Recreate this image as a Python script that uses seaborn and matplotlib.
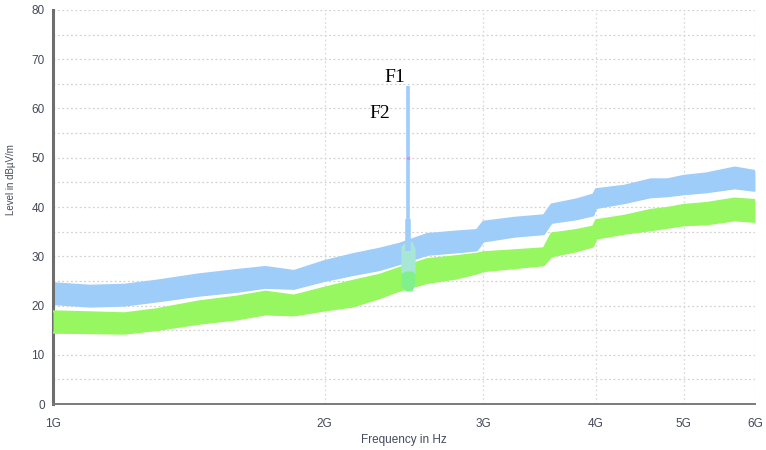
import numpy as np
import pandas as pd
import matplotlib
matplotlib.use("Agg")
import matplotlib.pyplot as plt
from matplotlib.ticker import FixedLocator, NullLocator, MultipleLocator
import seaborn as sns

# Częstotliwość [GHz], dolna/górna krawędź pasma [dBµV/m]
freq_ghz = [1.0, 1.1, 1.2, 1.3, 1.45, 1.6, 1.72, 1.85, 2.0, 2.15, 2.3, 2.42,
            2.6, 2.8, 2.95, 3.0, 3.25, 3.5, 3.57, 3.8, 3.97, 4.0, 4.3, 4.6,
            4.8, 5.0, 5.3, 5.7, 6.0]
peak_top = [24.5, 24.0, 24.2, 25.0, 26.3, 27.2, 27.8, 27.0, 29.0, 30.4, 31.5, 32.5,
            34.5, 35.0, 35.3, 37.0, 37.8, 38.3, 40.5, 41.5, 42.5, 43.6, 44.3, 45.6,
            45.6, 46.3, 46.8, 48.0, 47.3]
peak_bottom = [20.3, 19.8, 20.0, 20.8, 22.0, 22.8, 23.6, 23.4, 25.0, 26.2, 27.2, 28.4,
               30.3, 30.8, 31.2, 33.0, 34.0, 34.5, 36.8, 37.5, 38.3, 39.8, 40.8, 42.0,
               42.2, 42.6, 43.0, 43.8, 43.3]
avg_top = [18.8, 18.6, 18.4, 19.2, 20.8, 21.8, 22.8, 22.0, 23.6, 25.0, 26.2, 27.6,
           29.4, 30.0, 30.5, 30.8, 31.2, 31.6, 34.6, 35.3, 36.0, 37.3, 38.2, 39.4,
           39.8, 40.4, 40.8, 41.7, 41.4]
avg_bottom = [14.5, 14.4, 14.3, 15.0, 16.3, 17.2, 18.2, 18.0, 19.0, 19.8, 21.5, 23.0,
              24.6, 25.5, 26.5, 27.0, 27.6, 28.2, 30.0, 31.0, 32.0, 33.6, 34.6, 35.3,
              35.8, 36.3, 36.5, 37.3, 37.0]

# Sygnał 2.4 GHz (F1 - szczyt, F2 - średnia)
spike_ghz = 2.477
spike_peak = 64.5
spike_avg = 50.0
spike_base = 31.0

# Obszar nakładania się pasm w paśmie ISM
ism_ghz = [2.43, 2.46, 2.50, 2.52]
ism_top = [32.0, 33.0, 33.0, 31.5]
ism_mid = [26.5, 27.0, 27.0, 26.5]
ism_bottom = [24.0, 23.0, 23.0, 24.5]

blue = "#9fcdfa"
green = "#97f760"
text_col = "#454a5a"

df = pd.DataFrame({
    "freq": np.array(freq_ghz) * 1e9,
    "peak_top": peak_top, "peak_bottom": peak_bottom,
    "avg_top": avg_top, "avg_bottom": avg_bottom,
})

sns.set_style("white")
plt.rcParams["font.family"] = ["Liberation Sans", "DejaVu Sans"]

fig = plt.figure(figsize=(7.66, 4.5), dpi=100)
ax = fig.add_axes([0.0692, 0.1022, 0.9164, 0.8756])

# pasma
ax.fill_between(df["freq"], df["peak_bottom"], df["peak_top"], color=blue, lw=0, zorder=2)
sns.lineplot(data=df, x="freq", y="peak_top", color=blue, lw=1.6, ax=ax, zorder=2)
sns.lineplot(data=df, x="freq", y="peak_bottom", color=blue, lw=1.6, ax=ax, zorder=2)
ax.fill_between(df["freq"], df["avg_bottom"], df["avg_top"], color=green, lw=0, zorder=3)
sns.lineplot(data=df, x="freq", y="avg_top", color=green, lw=1.6, ax=ax, zorder=3)
sns.lineplot(data=df, x="freq", y="avg_bottom", color=green, lw=1.6, ax=ax, zorder=3)

ism_f = np.array(ism_ghz) * 1e9
ax.fill_between(ism_f, ism_bottom, ism_top, color="#a8e6d6", lw=0, zorder=4)
ax.fill_between(ism_f, ism_bottom, ism_mid, color="#7ff08a", lw=0, zorder=4)

# szpilka
ax.vlines(spike_ghz * 1e9, spike_base, spike_peak, color=blue, lw=2.6, zorder=5)
ax.vlines(spike_ghz * 1e9, spike_base, 37.5, color=blue, lw=4, zorder=5)
ax.plot([spike_ghz * 1e9], [spike_avg], marker="s", ms=2, color="#e08ae8", zorder=6)

ax.text(2.33e9, 65.3, "F1", family=["Liberation Serif"], fontsize=14, color="black")
ax.text(2.24e9, 58.0, "F2", family=["Liberation Serif"], fontsize=14, color="black")

# osie
ax.set_xscale("log")
ax.set_xlim(1e9, 6e9)
ax.set_ylim(0, 80)
xt = [1e9, 2e9, 3e9, 4e9, 5e9, 6e9]
ax.xaxis.set_major_locator(FixedLocator(xt))
ax.xaxis.set_minor_locator(NullLocator())
ax.set_xticklabels(["1G", "2G", "3G", "4G", "5G", "6G"])
ax.yaxis.set_major_locator(MultipleLocator(10))
ax.yaxis.set_minor_locator(MultipleLocator(5))

for y in np.arange(5, 81, 5):
    ax.axhline(y, color="#d2d2d2", lw=0.9, ls=(0, (1.5, 2)), zorder=1)
for x in xt[1:]:
    ax.axvline(x, color="#dadada", lw=0.9, ls=(0, (1.5, 2)), zorder=1)

for s in ["top", "right"]:
    ax.spines[s].set_visible(False)
ax.spines["left"].set_color("#6e6e6e")
ax.spines["left"].set_linewidth(2.2)
ax.spines["bottom"].set_color("#7a7a7a")
ax.spines["bottom"].set_linewidth(1.4)

ax.tick_params(axis="both", which="both", direction="inout", colors="#6e6e6e",
               labelcolor=text_col, labelsize=8.5)
ax.tick_params(axis="y", which="major", length=8, width=1.2, pad=2)
ax.tick_params(axis="y", which="minor", length=8, width=1.2)
ax.tick_params(axis="x", which="major", length=8, width=1.2, pad=6)

ax.set_xlabel("Frequency in Hz", fontsize=8.5, color=text_col, labelpad=3)
ax.set_ylabel("Level in dBµV/m", fontsize=7, color=text_col)
ax.yaxis.set_label_coords(-0.053, 0.57)

fig.savefig("out.png", dpi=100)
